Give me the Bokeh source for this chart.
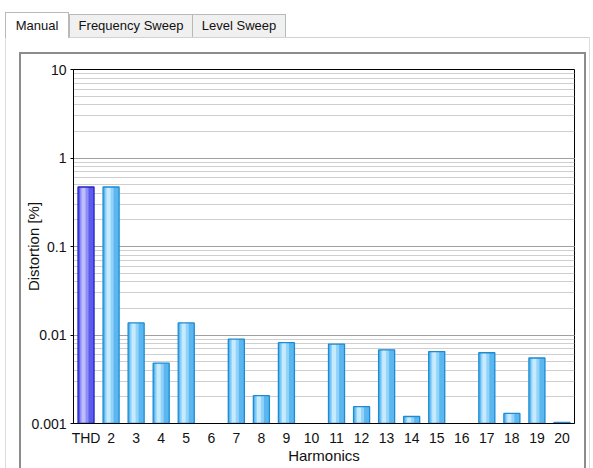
from bokeh.plotting import figure
from bokeh.models import ColumnDataSource, FactorRange, LogTicker, Div
from bokeh.layouts import column
from bokeh.transform import dodge
from bokeh.embed import file_html
from bokeh.resources import INLINE

categories = ["THD", "2", "3", "4", "5", "6", "7", "8", "9", "10",
              "11", "12", "13", "14", "15", "16", "17", "18", "19", "20"]
distortion = [0.47, 0.47, 0.0137, 0.0048, 0.0137, None, 0.009, 0.00206, 0.0082, None,
              0.0079, 0.00155, 0.0068, 0.0012, 0.0065, None, 0.0063, 0.0013, 0.0055, 0.00103]
y_ticks = [0.001, 0.01, 0.1, 1, 10]
y_tick_labels = ["0.001", "0.01", "0.1", "1", "10"]
tab_labels = ["Manual", "Frequency Sweep", "Level Sweep"]
x_title = "Harmonics"
y_title = "Distortion [%]"

FONT = "Liberation Sans"

thd = {"cat": [], "val": [], "base": []}
harm = {"cat": [], "val": [], "base": []}
for c, v in zip(categories, distortion):
    if v is None:
        continue
    d = thd if c == "THD" else harm
    d["cat"].append(c)
    d["val"].append(v)
    d["base"].append(y_ticks[0])
src_thd = ColumnDataSource(thd)
src_harm = ColumnDataSource(harm)

p = figure(x_range=FactorRange(*categories), y_range=(y_ticks[0], y_ticks[-1]),
           y_axis_type="log", frame_width=501, frame_height=354,
           min_border_left=73, min_border_right=19, min_border_top=17, min_border_bottom=45,
           output_backend="svg", toolbar_location=None, margin=0)
p.background_fill_color = "white"
p.border_fill_color = "white"
p.outline_line_color = "black"
p.outline_line_width = 1

p.xgrid.grid_line_color = None
p.ygrid.grid_line_color = "#a0a0a0"
p.ygrid.minor_grid_line_color = "#cfcfcf"
p.yaxis.ticker = LogTicker(num_minor_ticks=10, desired_num_ticks=5)
p.yaxis.major_label_overrides = {t: l for t, l in zip(y_ticks, y_tick_labels)}

for ax in (p.xaxis, p.yaxis):
    ax.axis_line_color = "black"
    ax.major_label_text_font = FONT
    ax.major_label_text_font_size = "14px"
    ax.major_label_text_color = "#111111"
    ax.axis_label_text_font = FONT
    ax.axis_label_text_font_size = "15px"
    ax.axis_label_text_font_style = "normal"
    ax.axis_label_text_color = "#111111"
    ax.minor_tick_line_color = None
p.xaxis.major_tick_line_color = None
p.xaxis.major_label_standoff = 0
p.xaxis.axis_label_standoff = -2
p.yaxis.major_tick_out = 3
p.yaxis.major_tick_in = 0
p.yaxis.major_tick_line_color = "black"
p.yaxis.major_label_standoff = 3
p.yaxis.axis_label_standoff = -14
p.xaxis.axis_label = x_title
p.yaxis.axis_label = y_title

W = 0.64

def bars(src, base, mid, light, edge):
    p.vbar(x="cat", top="val", bottom="base", width=W, source=src,
           fill_color=base, line_color=None)
    p.vbar(x=dodge("cat", -0.07, range=p.x_range), top="val", bottom="base", width=0.34,
           source=src, fill_color=mid, line_color=None)
    p.vbar(x=dodge("cat", -0.1, range=p.x_range), top="val", bottom="base", width=0.16,
           source=src, fill_color=light, line_color=None)
    p.vbar(x="cat", top="val", bottom="base", width=W, source=src,
           fill_color=None, line_color=edge, line_width=1.3)

bars(src_harm, "#5cb7f0", "#93d3fa", "#c6eafe", "#1c8bd3")
bars(src_thd, "#5b5bee", "#8e8ef6", "#bdbdfc", "#2323c4")

# window chrome: tabs and framed panel
tab_geom = [(5, 64, 12, 26, "#ffffff"), (69, 124, 14, 23, "#f0f0f0"), (192, 94, 14, 23, "#f0f0f0")]
tabs_html = ""
for (l, w, t, h, bg), name in zip(tab_geom, tab_labels):
    tabs_html += (f'<div style="position:absolute;left:{l}px;top:{t}px;width:{w}px;height:{h}px;'
                  f'background:{bg};border:1px solid #b9b9b9;border-bottom:none;box-sizing:border-box;'
                  f'display:flex;align-items:center;justify-content:center;padding-top:1px;'
                  f'font-family:\'{FONT}\';font-size:13px;color:#111;white-space:nowrap">{name}</div>')
chrome = (
    '<div style="position:relative;width:593px;height:52px;overflow:visible">'
    '<div style="position:absolute;left:69px;top:37px;width:521px;height:0;border-top:1px solid #d2d2d2"></div>'
    '<div style="position:absolute;left:5px;top:37px;width:0;height:440px;border-left:1px solid #dcdcdc"></div>'
    '<div style="position:absolute;left:589px;top:37px;width:0;height:440px;border-left:1px solid #dcdcdc"></div>'
    + tabs_html +
    '<div style="position:absolute;left:19px;top:52px;width:567px;height:440px;border:2px solid #8c8c8c;'
    'box-sizing:border-box;z-index:10;pointer-events:none"></div>'
    '</div>'
)
div = Div(text=chrome, width=593, height=52, margin=0,
          styles={"overflow": "visible", "z-index": "10"})

layout = column(div, p, spacing=0)
open("out.html", "w").write(file_html(layout, INLINE))
